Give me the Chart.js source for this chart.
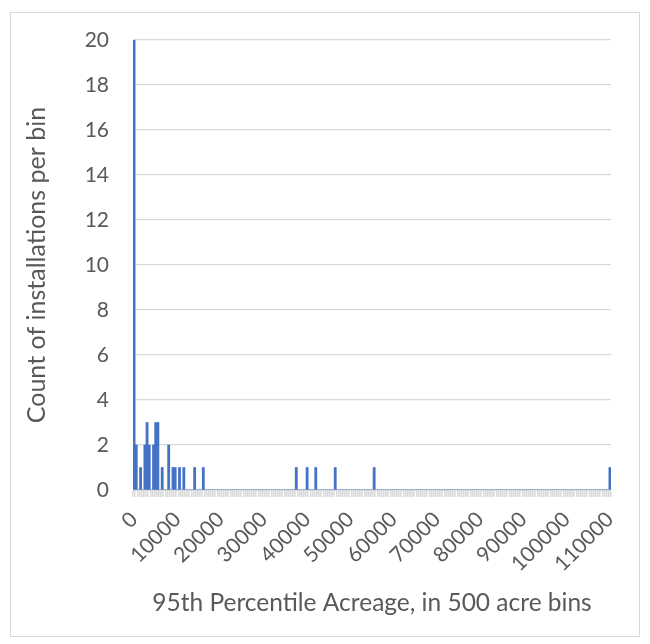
<!DOCTYPE html>
<html>
<head>
<meta charset="utf-8">
<script src="https://cdn.jsdelivr.net/npm/chart.js@4.4.1/dist/chart.umd.min.js"></script>
<style>
  html, body { margin: 0; padding: 0; background: #ffffff; }
  #wrap { position: relative; width: 650px; height: 644px; }
  canvas { display: block; }
</style>
</head>
<body>
<div id="wrap"><canvas id="c" width="650" height="644"></canvas></div>
<script>
// ---- data ----
const binSize = 500;
const binMax = 110000;
const tickLabels = ['0','10000','20000','30000','40000','50000','60000','70000','80000','90000','100000','110000'];
const binStarts = [0, 500, 1500, 2500, 3000, 3500, 4500, 5000, 5500, 6500, 8000, 9000, 9500, 10500, 11500, 14000, 16000, 37500, 40000, 42000, 46500, 55500, 110000];
const binCounts = [20, 2, 1, 2, 3, 2, 2, 3, 3, 1, 2, 1, 1, 1, 1, 1, 1, 1, 1, 1, 1, 1, 1];
const yTicks = [0, 2, 4, 6, 8, 10, 12, 14, 16, 18, 20];
const xTitle = '95th Percentile Acreage, in 500 acre bins';
const yTitle = 'Count of installations per bin';

// categories: every 500-acre bin
const categories = [];
for (let v = 0; v <= binMax; v += binSize) categories.push(String(v));
const counts = categories.map(c => {
  const i = binStarts.indexOf(Number(c));
  return i >= 0 ? binCounts[i] : 0;
});

const FONT = 'Lato, "Open Sans", sans-serif';
const TXT = '#595959';

const borderPlugin = {
  id: 'outerBorder',
  beforeDraw(chart) {
    const ctx = chart.ctx;
    ctx.save();
    ctx.fillStyle = '#ffffff';
    ctx.fillRect(0, 0, chart.width, chart.height);
    ctx.strokeStyle = '#d9d9d9';
    ctx.lineWidth = 1;
    ctx.strokeRect(10.5, 12.5, 629, 624);
    ctx.restore();
  }
};

new Chart(document.getElementById('c'), {
  type: 'bar',
  data: {
    labels: categories,
    datasets: [{
      data: counts,
      backgroundColor: '#4472C4',
      borderWidth: 0,
      barPercentage: 1.0,
      categoryPercentage: 1.0
    }]
  },
  options: {
    responsive: false,
    animation: false,
    events: [],
    layout: { padding: { left: 10, right: 39, top: 40, bottom: 10 } },
    plugins: { legend: { display: false }, tooltip: { enabled: false } },
    scales: {
      x: {
        type: 'category',
        offset: true,
        grid: {
          display: true,
          drawOnChartArea: false,
          drawTicks: true,
          tickLength: 7,
          color: '#dadada',
          lineWidth: 1.6
        },
        border: { display: true, color: '#d9d9d9', width: 1 },
        ticks: {
          autoSkip: false,
          minRotation: 45,
          maxRotation: 45,
          padding: 10,
          color: TXT,
          font: { family: FONT, size: 21 },
          callback: function (value) {
            const lab = this.getLabelForValue(value);
            return tickLabels.includes(lab) ? lab : '';
          }
        },
        title: {
          display: true,
          text: xTitle,
          color: TXT,
          font: { family: FONT, size: 24.5 },
          padding: { top: 0, bottom: 16 }
        },
        afterFit(scale) { scale.height = 644 - 490 - 10; }
      },
      y: {
        min: 0,
        max: 20,
        afterBuildTicks(scale) { scale.ticks = yTicks.map(v => ({ value: v })); },
        grid: { color: '#d9d9d9', lineWidth: 1.2, drawTicks: false },
        border: { display: false },
        ticks: {
          padding: 24,
          color: TXT,
          font: { family: FONT, size: 21 }
        },
        title: {
          display: true,
          text: yTitle,
          color: TXT,
          font: { family: FONT, size: 25 },
          padding: { top: 12, bottom: 0 }
        },
        afterFit(scale) { scale.width = 133 - 10; }
      }
    }
  },
  plugins: [borderPlugin]
});
</script>
</body>
</html>
